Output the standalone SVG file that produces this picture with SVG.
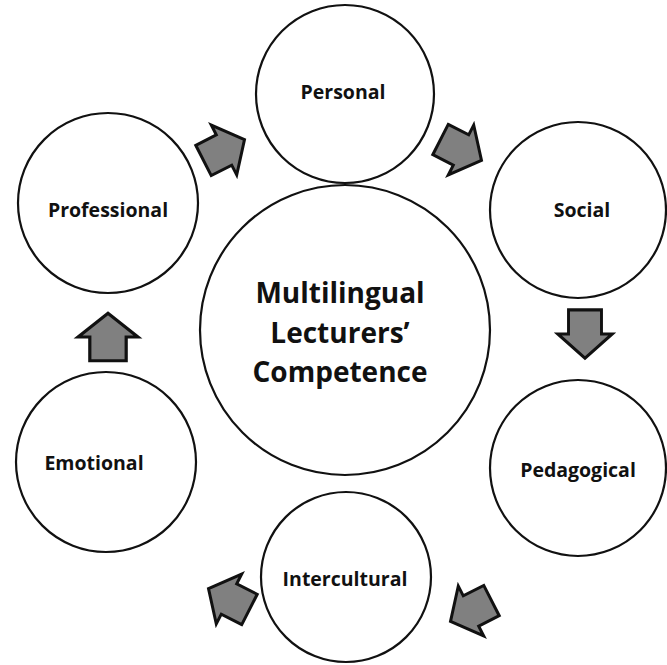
<svg xmlns="http://www.w3.org/2000/svg" width="667" height="665" viewBox="0 0 667 665">
<style>
.c{fill:#fff;stroke:#111;stroke-width:2.2}
.t{font-family:"Open Sans","DejaVu Sans",sans-serif;font-weight:700;font-size:19.5px;fill:#111;text-anchor:middle}
.tc{font-family:"Open Sans","DejaVu Sans",sans-serif;font-weight:700;font-size:28px;fill:#111;text-anchor:middle}
.a{fill:#808080;stroke:#111;stroke-width:3;stroke-linejoin:miter}
</style>
<defs>
<path id="arr" d="M-23,-17 L0,-17 L0,-28 L23,0 L0,28 L0,17 L-23,17 Z"/>
</defs>
<rect width="667" height="665" fill="#fff"/>
<g id="center"><circle class="c" cx="345" cy="330" r="145"/>
<text class="tc" x="340" y="303">Multilingual</text>
<text class="tc" x="340" y="343">Lecturers’</text>
<text class="tc" x="340" y="382">Competence</text></g>
<g id="personal"><circle class="c" cx="345" cy="94" r="89"/><text class="t" x="343" y="99">Personal</text></g>
<g id="social"><circle class="c" cx="578" cy="210" r="88"/><text class="t" x="582" y="217">Social</text></g>
<g id="pedagogical"><circle class="c" cx="578" cy="468" r="88"/><text class="t" x="578" y="477">Pedagogical</text></g>
<g id="intercultural"><circle class="c" cx="346" cy="577" r="85"/><text class="t" x="345" y="586">Intercultural</text></g>
<g id="emotional"><circle class="c" cx="106" cy="462" r="90"/><text class="t" x="94" y="470">Emotional</text></g>
<g id="professional"><circle class="c" cx="108" cy="203" r="90"/><text class="t" x="108" y="217">Professional</text></g>
<g id="connectors">
<use href="#arr" class="a" transform="translate(224,150) rotate(-27)"/>
<use href="#arr" class="a" transform="translate(461,150) rotate(27)"/>
<use href="#arr" class="a" transform="translate(585,334) rotate(90) scale(1.05,0.97)"/>
<use href="#arr" class="a" transform="translate(471,611) rotate(153)"/>
<use href="#arr" class="a" transform="translate(229,599) rotate(-153)"/>
<use href="#arr" class="a" transform="translate(108,337) rotate(-90) scale(1.03,1.07)"/>
</g>
</svg>
